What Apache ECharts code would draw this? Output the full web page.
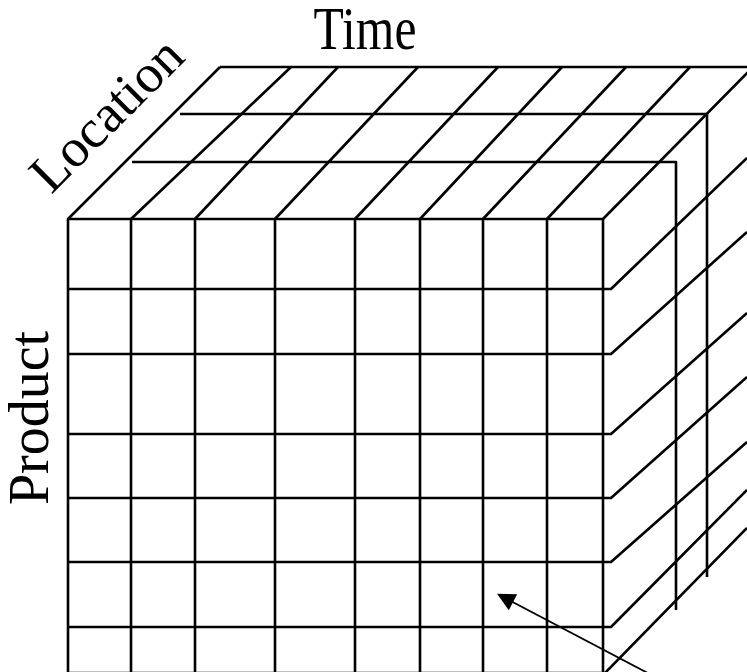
<!DOCTYPE html>
<html>
<head>
<meta charset="utf-8">
<script src="https://cdn.jsdelivr.net/npm/echarts@6/dist/echarts.min.js"></script>
<style>
html,body{margin:0;padding:0;background:#fff;}
#chart{width:747px;height:672px;}
</style>
</head>
<body>
<div id="chart"></div>
<script>
// ---- data (diagram geometry) ----
const axisLabels = ['Time', 'Location', 'Product'];
const frontX = [68, 131, 195, 275, 355, 420, 483, 547, 603];   // front-face column lines
const backX  = [220, 291, 338, 418, 498, 562, 626, 690, 753];  // same columns on back top edge
const frontTopY = 219;
const backTopY = 67;
const bottomY = 673;
const rowY = [289, 354, 434, 498, 562, 627];                   // front-face row lines
const rowOverhangX = 611;
const rightX = 747;
const rowEndY = [158, 232, 313, 377, 442, 490];                // row lines on right face edge
const bottomDiag = [[603, 675], [747, 528]];
const sliceY = [162, 114];
const sliceStartX = [132, 180];
const sliceRightX = [676, 707];
const sliceBottomY = [610, 577];
const arrowFrom = [720, 711];
const arrowTo = [505, 598];

// ---- build line data ----
const segs = [];
frontX.forEach((x, i) => {
  segs.push({coords: [[x, bottomY + 5], [x, frontTopY], [backX[i], backTopY]]});
});
segs.push({coords: [[frontX[0], frontTopY], [frontX[frontX.length - 1], frontTopY]]});
segs.push({coords: [[backX[0], backTopY], [rightX + 5, backTopY]]});
rowY.forEach((y, i) => {
  segs.push({coords: [[frontX[0], y], [rowOverhangX, y], [rightX, rowEndY[i]]]});
});
segs.push({coords: [[frontX[0], bottomY], [frontX[frontX.length - 1], bottomY]]});
segs.push({coords: bottomDiag});
sliceY.forEach((y, i) => {
  segs.push({coords: [[sliceStartX[i], y], [sliceRightX[i], y], [sliceRightX[i], sliceBottomY[i]]]});
});

const chart = echarts.init(document.getElementById('chart'), null, {renderer: 'canvas'});
chart.setOption({
  animation: false,
  backgroundColor: '#ffffff',
  grid: {left: 0, right: 0, top: 0, bottom: 0},
  xAxis: {type: 'value', min: 0, max: 747, show: false},
  yAxis: {type: 'value', min: 0, max: 672, inverse: true, show: false},
  series: [
    {
      type: 'lines',
      coordinateSystem: 'cartesian2d',
      polyline: true,
      silent: true,
      clip: true,
      lineStyle: {color: '#000', width: 2.6, opacity: 1, join: 'round'},
      data: segs
    },
    {
      type: 'lines',
      coordinateSystem: 'cartesian2d',
      silent: true,
      symbol: ['none', 'triangle'],
      symbolSize: [14, 18],
      lineStyle: {color: '#000', width: 1.8, opacity: 1},
      itemStyle: {color: '#000'},
      data: [{coords: [arrowFrom, arrowTo]}]
    }
  ],
  graphic: [
    {
      type: 'text', x: 365, y: 33, scaleX: 0.8,
      style: {text: axisLabels[0], font: '62px "Liberation Serif"', fill: '#000',
              textAlign: 'center', textVerticalAlign: 'middle'}
    },
    {
      type: 'text', x: 109, y: 117, rotation: Math.PI / 4,
      style: {text: axisLabels[1], font: '54px "Liberation Serif"', fill: '#000',
              textAlign: 'center', textVerticalAlign: 'middle'}
    },
    {
      type: 'text', x: 33, y: 418, rotation: Math.PI / 2,
      style: {text: axisLabels[2], font: '56px "Liberation Serif"', fill: '#000',
              textAlign: 'center', textVerticalAlign: 'middle'}
    }
  ]
});
</script>
</body>
</html>
